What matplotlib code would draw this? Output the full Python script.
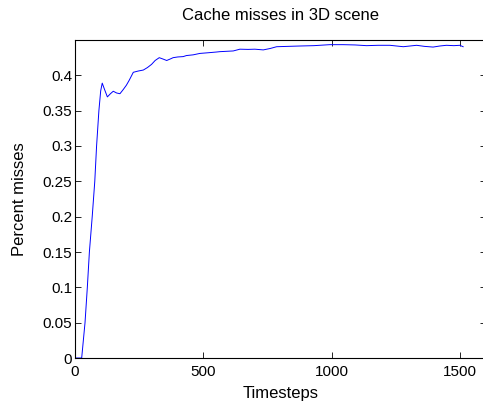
import matplotlib
matplotlib.use("Agg")
import matplotlib.pyplot as plt

# values
timesteps = [0, 26, 39, 48, 56, 67, 77, 84, 93, 100, 106, 115, 126, 138, 149, 162, 175,
             188, 200, 211, 227, 245, 266, 282, 298, 312, 328, 343, 357, 370, 382, 400,
             421, 434, 460, 486, 520, 551, 564, 590, 616, 642, 674, 700, 733, 760, 785,
             830, 875, 930, 992, 1044, 1090, 1135, 1180, 1226, 1278, 1330, 1360, 1394,
             1420, 1446, 1475, 1498, 1511]
misses = [0.0, 0.0, 0.05, 0.10, 0.15, 0.20, 0.25, 0.30, 0.35, 0.378, 0.389, 0.380, 0.3695,
          0.374, 0.3775, 0.375, 0.374, 0.380, 0.386, 0.393, 0.4043, 0.406, 0.4075, 0.411,
          0.4155, 0.421, 0.425, 0.423, 0.421, 0.423, 0.425, 0.426, 0.4265, 0.428, 0.429,
          0.431, 0.432, 0.433, 0.4335, 0.434, 0.4345, 0.437, 0.4367, 0.437, 0.436, 0.438,
          0.4405, 0.441, 0.4415, 0.442, 0.4434, 0.4434, 0.443, 0.442, 0.4425, 0.4425,
          0.4405, 0.4425, 0.441, 0.440, 0.4415, 0.4425, 0.442, 0.4425, 0.4405]

x_ticks = [0, 500, 1000, 1500]
y_ticks = [0, 0.05, 0.1, 0.15, 0.2, 0.25, 0.3, 0.35, 0.4]
y_tick_labels = ["0", "0.05", "0.1", "0.15", "0.2", "0.25", "0.3", "0.35", "0.4"]

plt.rcParams["font.family"] = ["Liberation Sans", "DejaVu Sans"]
plt.rcParams["font.size"] = 11

fig = plt.figure(figsize=(4.83, 4.01), dpi=100)
# right edge of the box sits just past the image border, like the reference
ax = fig.add_axes([75 / 483, 43 / 401, 411 / 483, 318 / 401])

ax.plot(timesteps, misses, color="blue", linewidth=0.7)

ax.set_xlim(0, 1600)
ax.set_ylim(0, 0.45)
ax.set_xticks(x_ticks)
ax.set_xticklabels([str(t) for t in x_ticks])
ax.set_yticks(y_ticks)
ax.set_yticklabels(y_tick_labels)
ax.tick_params(direction="in", top=True, right=True, length=4, width=0.6,
               labelsize=11, pad=2)
ax.tick_params(axis="x", pad=5)
for s in ax.spines.values():
    s.set_linewidth(0.8)
# the right border falls just outside the picture in the reference
ax.spines["right"].set_visible(False)

ax.set_title("Cache misses in 3D scene", fontsize=12, y=1.062, pad=0)
ax.set_xlabel("Timesteps", fontsize=12)
ax.xaxis.set_label_coords(0.5, -0.088)
ax.set_ylabel("Percent misses", fontsize=12)
ax.yaxis.set_label_coords(-0.118, 0.5)

fig.savefig("out.png", dpi=100)
